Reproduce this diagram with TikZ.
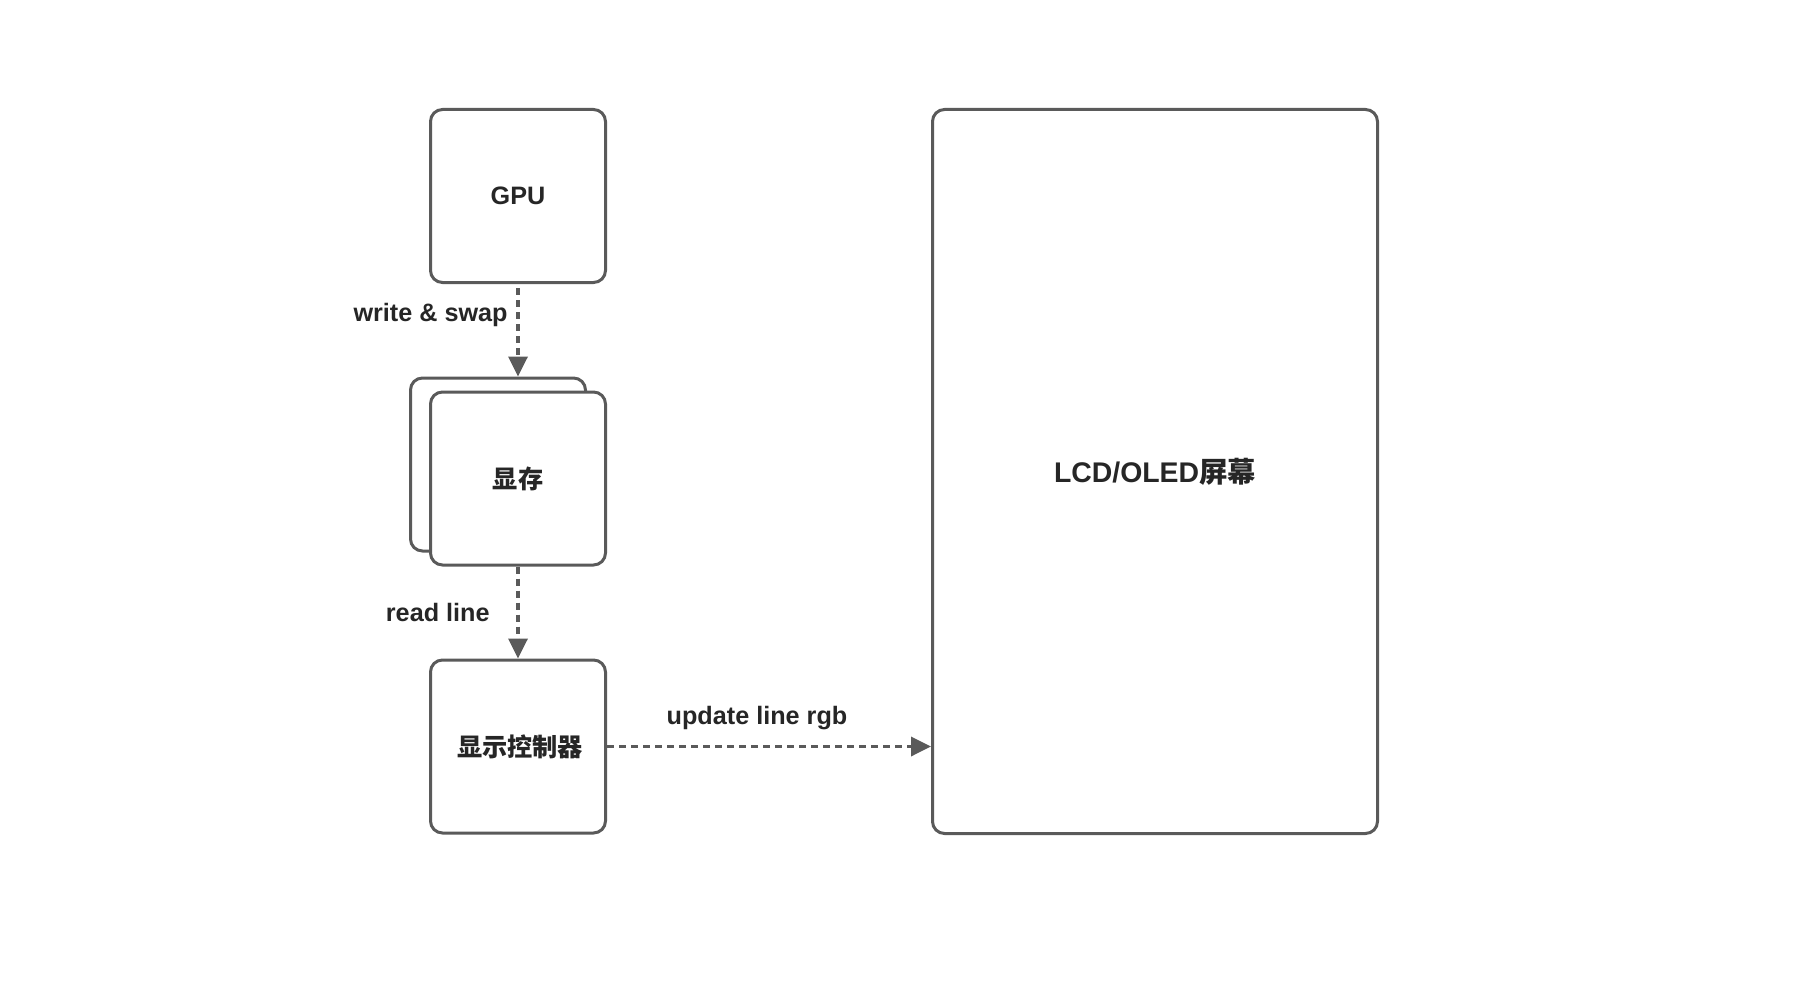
\documentclass[tikz,border=0pt]{standalone}
\usepackage{fontspec}
\setmainfont{Liberation Sans}
\newfontfamily\cjk{Noto Sans CJK SC}
\usetikzlibrary{arrows.meta}
\definecolor{linegray}{HTML}{5A5A5A}
\definecolor{textgray}{HTML}{262626}
\tikzset{
	unit/.style={draw=linegray, line width=1.5pt, rounded corners=6pt, fill=white, text=textgray, font=\bfseries\fontsize{12.6}{14}\selectfont, minimum width=87.5pt, minimum height=86.5pt, inner sep=0pt},
	flow/.style={draw=linegray, line width=1.75pt, dash pattern=on 3.5pt off 2.5pt, -{Triangle[width=9.5pt,length=10pt]}},
	tag/.style={text=textgray, font=\bfseries\fontsize{12.6}{14}\selectfont}
}
\begin{document}
\begin{tikzpicture}[x=0.5pt,y=-0.5pt]
					\useasboundingbox (0,0) rectangle (1816,1006); %page frame
					\node[unit] (gpu) at (518,196) {GPU}; %gpu box
					\node[unit] (vramback) at (498,464.5) {}; %back buffer
					\node[unit] (vram) at (518,478.5) {\cjk 显存}; %front buffer
					\node[unit] (ctrl) at (518,746.5) {\cjk\,显示控制器}; %display controller
					\node[unit, minimum width=222.5pt, minimum height=362pt, font=\bfseries\fontsize{14.2}{16}\selectfont] (screen) at (1155,471.5) {LCD/OLED{\cjk 屏幕}}; %screen
					\draw[flow, shorten <=2pt] (gpu.south) -- (gpu.south |- vramback.north) node[pos=0.34, left, tag, xshift=-1pt] {write \& swap}; %write arrow
					\draw[flow] (vram.south) -- (ctrl.north) node[midway, left, tag, xshift=-10pt] {read line}; %read arrow
					\draw[flow] (ctrl.east) -- (screen.west |- ctrl.east) node[midway, above, tag, xshift=-6pt, yshift=4pt] {update line rgb}; %update arrow
				\end{tikzpicture}
\end{document}
